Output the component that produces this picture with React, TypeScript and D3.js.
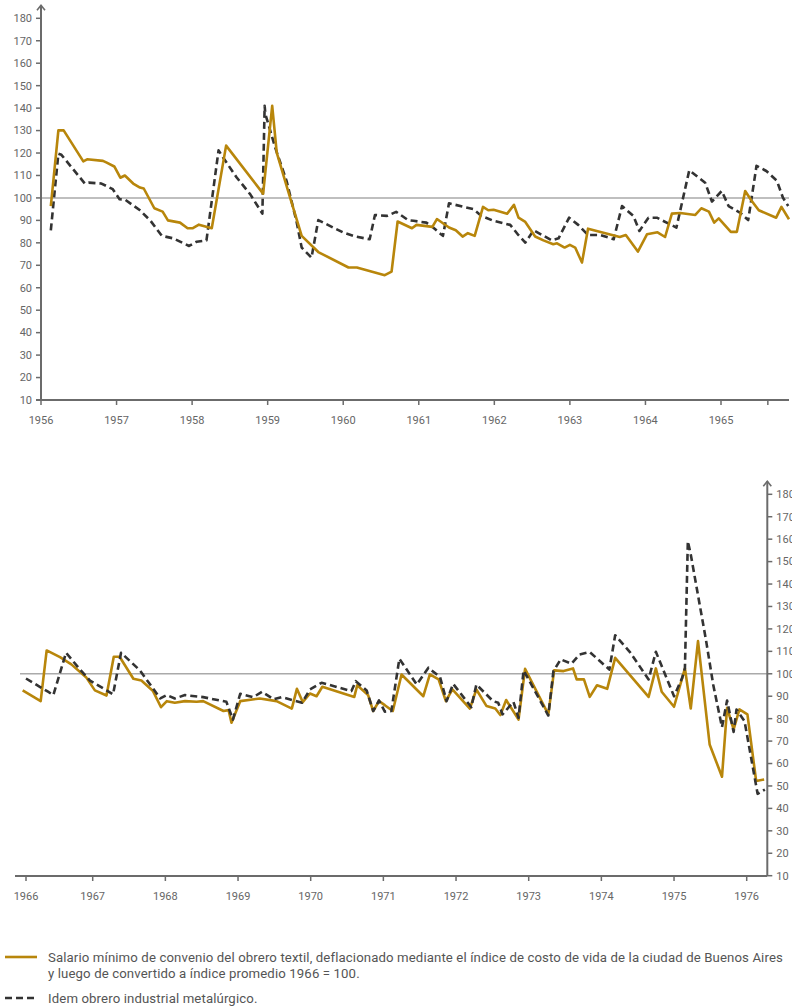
import { useEffect, useRef } from 'react';
import * as d3 from 'd3';

// Series 1956-1965 (decimal year, index value)
const topYears = [1956.13, 1956.23, 1956.30, 1956.56, 1956.61, 1956.82, 1956.87, 1956.97, 1957.05, 1957.11, 1957.22, 1957.31, 1957.36, 1957.50, 1957.61, 1957.68, 1957.84, 1957.94, 1958.01, 1958.09, 1958.26, 1958.45, 1958.94, 1959.06, 1959.12, 1959.27, 1959.45, 1959.67, 1960.07, 1960.18, 1960.55, 1960.64, 1960.72, 1960.91, 1960.97, 1961.18, 1961.24, 1961.40, 1961.49, 1961.58, 1961.65, 1961.74, 1961.85, 1961.92, 1961.99, 1962.17, 1962.26, 1962.32, 1962.41, 1962.54, 1962.65, 1962.78, 1962.83, 1962.93, 1963.00, 1963.07, 1963.16, 1963.24, 1963.66, 1963.74, 1963.90, 1964.02, 1964.16, 1964.26, 1964.35, 1964.46, 1964.66, 1964.74, 1964.84, 1964.91, 1964.97, 1965.13, 1965.21, 1965.32, 1965.40, 1965.50, 1965.73, 1965.80, 1965.90];
const topTextil = [96.4, 130.1, 130.1, 116.3, 117.2, 116.5, 115.7, 114, 109, 110, 106.4, 104.6, 104.2, 95.4, 93.9, 90, 89, 86.5, 86.5, 88.1, 86.5, 123.3, 101.9, 141, 120.2, 103.1, 83.1, 75.9, 69, 69, 65.6, 67.2, 89.5, 86.5, 88, 87.1, 90.6, 86.8, 85.6, 82.8, 84.3, 83.1, 96, 94.5, 94.7, 93, 96.9, 91.2, 89.3, 82.8, 81.1, 79.4, 79.8, 77.9, 79.1, 77.9, 71.2, 86.3, 82.6, 83.5, 76.1, 83.8, 84.7, 82.6, 93, 93.3, 92.4, 95.4, 93.9, 89, 90.9, 84.9, 84.9, 103.1, 99, 94.5, 91.2, 96, 90.5];

const topYearsMet = [1956.13, 1956.23, 1956.27, 1956.58, 1956.63, 1956.80, 1956.95, 1957.04, 1957.11, 1957.31, 1957.45, 1957.60, 1957.75, 1957.96, 1958.06, 1958.19, 1958.35, 1958.41, 1958.59, 1958.77, 1958.93, 1958.96, 1958.97, 1959.10, 1959.25, 1959.38, 1959.45, 1959.58, 1959.67, 1960.00, 1960.16, 1960.35, 1960.42, 1960.58, 1960.70, 1960.86, 1960.93, 1961.10, 1961.19, 1961.32, 1961.40, 1961.72, 1961.83, 1961.99, 1962.21, 1962.32, 1962.41, 1962.52, 1962.76, 1962.85, 1962.99, 1963.11, 1963.24, 1963.40, 1963.58, 1963.69, 1963.84, 1963.92, 1964.04, 1964.15, 1964.41, 1964.58, 1964.79, 1964.88, 1965.01, 1965.10, 1965.25, 1965.36, 1965.47, 1965.60, 1965.74, 1965.82, 1965.89];
const topMetal = [85.6, 119.7, 119.2, 106.4, 106.8, 106.4, 103.9, 99.4, 99.3, 94.5, 89.8, 83.1, 82, 78.6, 80.5, 81.1, 121.2, 118, 109.1, 101.6, 93, 141, 137.3, 122.4, 107.6, 89.8, 77.9, 73.4, 90.1, 84.6, 82.8, 81.6, 92.4, 92, 93.8, 90.1, 89.8, 89, 86.8, 83.1, 97.6, 95, 92, 89.8, 88, 83.4, 80.1, 85.6, 81.1, 82, 91.2, 88, 83.5, 83.5, 81.6, 96.4, 92, 85.3, 91.2, 91.2, 86.8, 112.3, 106.8, 98.4, 103.1, 96.4, 93.5, 90.1, 114.3, 112, 107.6, 100.1, 96.4];

// Series 1966-1976
const botYears = [1965.95, 1966.22, 1966.31, 1966.51, 1966.68, 1966.90, 1967.03, 1967.19, 1967.29, 1967.37, 1967.56, 1967.67, 1967.83, 1967.94, 1968.02, 1968.13, 1968.27, 1968.43, 1968.52, 1968.80, 1968.87, 1968.91, 1969.03, 1969.30, 1969.53, 1969.74, 1969.81, 1969.89, 1969.99, 1970.08, 1970.16, 1970.60, 1970.64, 1970.79, 1970.86, 1970.94, 1971.02, 1971.13, 1971.25, 1971.55, 1971.64, 1971.76, 1971.86, 1971.95, 1972.19, 1972.28, 1972.42, 1972.54, 1972.61, 1972.69, 1972.86, 1972.95, 1973.27, 1973.35, 1973.48, 1973.61, 1973.66, 1973.76, 1973.84, 1973.94, 1974.08, 1974.19, 1974.65, 1974.75, 1974.83, 1975.00, 1975.15, 1975.23, 1975.33, 1975.49, 1975.66, 1975.73, 1975.82, 1975.90, 1976.01, 1976.13, 1976.24];
const botTextil = [92.6, 87.8, 110.4, 107.4, 104.2, 98.5, 92.6, 90.3, 107.6, 107.6, 97.8, 97, 92.3, 85.1, 87.8, 87.1, 87.8, 87.5, 87.8, 83.4, 83.8, 78.2, 87.8, 89, 87.8, 84.5, 93.3, 87.4, 91.2, 90, 94.2, 89.7, 94.9, 90.5, 83.4, 87.8, 86, 83.4, 99.7, 90, 99.7, 97.5, 87.8, 93, 84.5, 93, 85.6, 84.5, 81.6, 88.3, 79.6, 102.2, 81.9, 101.5, 101.2, 102.4, 97.5, 97.5, 89.7, 94.9, 93.3, 107.1, 89.7, 102.4, 92, 85.3, 102.4, 84.5, 114.6, 68.5, 54.1, 84.8, 75.2, 84.1, 81.9, 52.2, 52.9];

const botYearsMet = [1966.00, 1966.33, 1966.41, 1966.60, 1966.81, 1966.96, 1967.19, 1967.28, 1967.39, 1967.65, 1967.93, 1968.02, 1968.13, 1968.27, 1968.52, 1968.84, 1968.93, 1969.03, 1969.21, 1969.33, 1969.49, 1969.60, 1969.88, 1969.99, 1970.15, 1970.56, 1970.62, 1970.77, 1970.86, 1970.94, 1971.02, 1971.11, 1971.22, 1971.46, 1971.62, 1971.78, 1971.87, 1971.96, 1972.21, 1972.28, 1972.51, 1972.58, 1972.64, 1972.79, 1972.86, 1972.93, 1973.27, 1973.34, 1973.44, 1973.59, 1973.70, 1973.84, 1974.11, 1974.19, 1974.39, 1974.65, 1974.75, 1975.00, 1975.11, 1975.15, 1975.19, 1975.23, 1975.33, 1975.44, 1975.54, 1975.66, 1975.73, 1975.82, 1975.86, 1975.97, 1976.15, 1976.25];
const botMetal = [97.9, 92, 90.5, 109.4, 101.9, 97, 92.6, 90.8, 109.4, 101.5, 89, 90.5, 89, 90.5, 89.6, 87.5, 79.6, 91.1, 89.6, 92, 88.6, 89.6, 87.1, 93, 96, 92.3, 96.7, 92.6, 83.4, 88.1, 83.1, 83.4, 106.7, 95.2, 102.7, 98.5, 87.8, 95.5, 85.1, 95.2, 87.8, 87.1, 81.9, 87.5, 80.4, 101.5, 81.4, 101.2, 106.4, 104.5, 108.6, 109.7, 101.9, 117.2, 109.8, 97.5, 109.8, 90, 98, 102.5, 159.1, 153.2, 135, 115, 95, 76.2, 88.1, 74.1, 84.1, 78.9, 46.5, 48.4];

const topTicks = [1956, 1957, 1958, 1959, 1960, 1961, 1962, 1963, 1964, 1965];
const botTicks = [1966, 1967, 1968, 1969, 1970, 1971, 1972, 1973, 1974, 1975, 1976];
const yTicks = d3.range(10, 181, 10);

const legendTextil = [
  'Salario mínimo de convenio del obrero textil, deflacionado mediante el índice de costo de vida de la ciudad de Buenos Aires',
  'y luego de convertido a índice promedio 1966 = 100.',
];
const legendMetal = 'Idem obrero industrial metalúrgico.';

const GOLD = '#b8860b';
const DARK = '#333';
const AXIS = '#6b6b6b';
const FONT = 'Roboto, sans-serif';

const App = () => {
  const svgRef = useRef<SVGSVGElement>(null);

  useEffect(() => {
    const svg = d3.select(svgRef.current);
    svg.selectAll('*').remove();

    const drawPanel = (opts: any) => {
      const { x, y, axisX, axisY, xStart, xEnd, ticks, extraTicks, yLabelsRight, series } = opts;
      const g = svg.append('g');

      // reference line at 100
      g.append('line')
        .attr('x1', xStart).attr('x2', xEnd)
        .attr('y1', y(100)).attr('y2', y(100))
        .attr('stroke', '#aaa').attr('stroke-width', 1.5);

      const line = d3.line<[number, number]>()
        .x(d => x(d[0]))
        .y(d => y(d[1]));

      series.forEach((s: any) => {
        g.append('path')
          .datum(d3.zip(s.years, s.values))
          .attr('fill', 'none')
          .attr('stroke', s.color)
          .attr('stroke-width', 2.6)
          .attr('stroke-linejoin', 'round')
          .attr('stroke-dasharray', s.dash || null)
          .attr('d', line as any);
      });

      // x axis
      g.append('line')
        .attr('x1', xStart - 5).attr('x2', xEnd)
        .attr('y1', axisY).attr('y2', axisY)
        .attr('stroke', AXIS).attr('stroke-width', 2);
      [...ticks, ...(extraTicks || [])].forEach((t: number) => {
        g.append('line')
          .attr('x1', x(t)).attr('x2', x(t))
          .attr('y1', axisY).attr('y2', axisY + 5)
          .attr('stroke', AXIS).attr('stroke-width', 1.5);
      });
      g.append('g').selectAll('text')
        .data(ticks)
        .join('text')
        .attr('x', (d: number) => x(d))
        .attr('y', axisY + 24)
        .attr('text-anchor', 'middle')
        .attr('font-family', FONT)
        .attr('font-size', 11)
        .attr('fill', '#666')
        .text((d: number) => d);

      // y axis with arrow
      const yTop = y(180) - 13;
      g.append('line')
        .attr('x1', axisX).attr('x2', axisX)
        .attr('y1', axisY).attr('y2', yTop)
        .attr('stroke', AXIS).attr('stroke-width', 2);
      g.append('path')
        .attr('d', `M${axisX - 4},${yTop + 5}L${axisX},${yTop}L${axisX + 4},${yTop + 5}`)
        .attr('fill', 'none').attr('stroke', AXIS).attr('stroke-width', 1.6);
      const dir = yLabelsRight ? 1 : -1;
      yTicks.forEach(t => {
        g.append('line')
          .attr('x1', axisX).attr('x2', axisX + dir * 5)
          .attr('y1', y(t)).attr('y2', y(t))
          .attr('stroke', AXIS).attr('stroke-width', 1.5);
        g.append('text')
          .attr('x', axisX + dir * 9)
          .attr('y', y(t))
          .attr('dy', '0.35em')
          .attr('text-anchor', yLabelsRight ? 'start' : 'end')
          .attr('font-family', FONT)
          .attr('font-size', 11)
          .attr('fill', '#666')
          .text(t);
      });
    };

    // top panel 1956-1965
    const xTop = d3.scaleLinear().domain([1956, 1965]).range([41, 721]);
    const yTop = d3.scaleLinear().domain([10, 180]).range([400, 18.3]);
    drawPanel({
      x: xTop, y: yTop, axisX: 41, axisY: 400, xStart: 41, xEnd: 789,
      ticks: topTicks, extraTicks: [1965.62], yLabelsRight: false,
      series: [
        { years: topYearsMet, values: topMetal, color: DARK, dash: '7,4' },
        { years: topYears, values: topTextil, color: GOLD },
      ],
    });

    // bottom panel 1966-1976
    const xBot = d3.scaleLinear().domain([1966, 1967, 1976]).range([26, 92.7, 746.7]);
    const yBot = d3.scaleLinear().domain([10, 180]).range([875.7, 494.3]);
    drawPanel({
      x: xBot, y: yBot, axisX: 767.3, axisY: 876, xStart: 20, xEnd: 767.3,
      ticks: botTicks, yLabelsRight: true,
      series: [
        { years: botYears, values: botTextil, color: GOLD },
        { years: botYearsMet, values: botMetal, color: DARK, dash: '7,4' },
      ],
    });

    // legend
    const lg = svg.append('g')
      .attr('font-family', FONT)
      .attr('font-size', 13.2)
      .attr('letter-spacing', 0.12)
      .attr('fill', '#555');
    lg.append('line').attr('x1', 5).attr('x2', 37).attr('y1', 957).attr('y2', 957)
      .attr('stroke', GOLD).attr('stroke-width', 2.6);
    legendTextil.forEach((t, i) => {
      lg.append('text').attr('x', 48).attr('y', 957 + i * 16).attr('dy', '0.35em').text(t);
    });
    lg.append('line').attr('x1', 5).attr('x2', 37).attr('y1', 998).attr('y2', 998)
      .attr('stroke', DARK).attr('stroke-width', 2.6).attr('stroke-dasharray', '7,4');
    lg.append('text').attr('x', 48).attr('y', 998).attr('dy', '0.35em').text(legendMetal);
  }, []);

  return (
    <svg
      ref={svgRef}
      width={792}
      height={1006}
      style={{ position: 'absolute', left: 0, top: 0, background: '#fff' }}
    />
  );
};

export default App;
